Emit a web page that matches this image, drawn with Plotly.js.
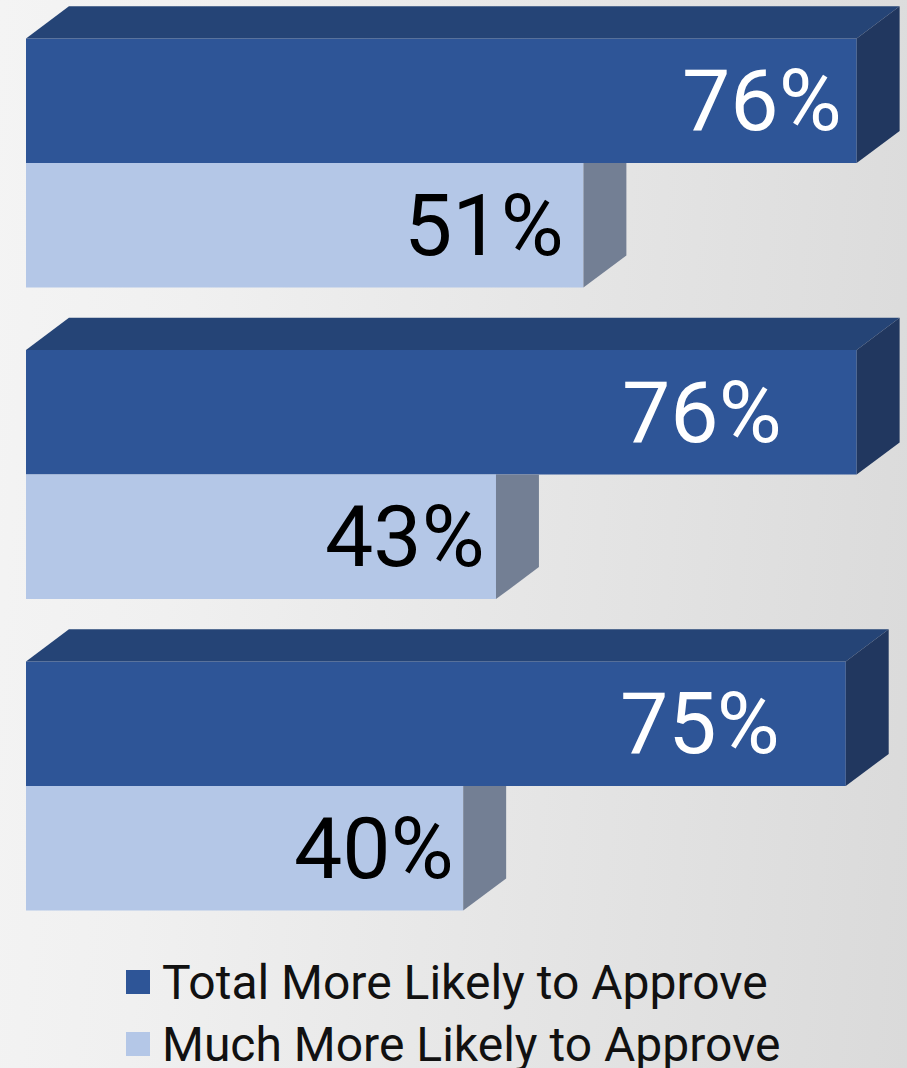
<!DOCTYPE html>
<html><head><meta charset="utf-8">
<script src="https://cdn.plot.ly/plotly-3.0.1.min.js"></script>
<style>
html,body{margin:0;padding:0;}
body{width:907px;height:1068px;background:linear-gradient(95deg,#f4f4f4 0%,#f0f0f0 22%,#dadada 100%);overflow:hidden;}
#chart{width:907px;height:1068px;}
</style></head><body><div id="chart"></div>
<script>
// ---- data ----
const groups = [0, 1, 2];
const seriesNames = ['Total More Likely to Approve', 'Much More Likely to Approve'];
const totalMore = [76, 76, 75];
const muchMore = [51, 43, 40];

// ---- style ----
const W = 907, H = 1068, ML = 26, MB = 133;
const PLOT_H = H - MB;
const BW = 0.4;           // bar thickness (y units)
const DX = 3.93;          // depth, x units
const DZ = 0.103;         // depth, y units
const C_DARK = '#2E5597', C_DARK_TOP = '#254476', C_DARK_SIDE = '#21375F';
const C_LIGHT = '#B4C7E7', C_LIGHT_SIDE = '#737F94';
const darkShift = [-13, -73, -64];
const lightShift = [-17, -9, -7];
const FONT = 'Roboto, "Open Sans", sans-serif';

const traces = [];
function face(xs, ys, color) {
  traces.push({type: 'scatter', x: xs, y: ys, mode: 'none', fill: 'toself',
    fillcolor: color, hoverinfo: 'skip', showlegend: false});
}
groups.forEach((g, i) => {
  const v = muchMore[i];
  face([v, v + DX, v + DX, v, v], [g, g, g + BW - DZ, g + BW, g], C_LIGHT_SIDE);
});
groups.forEach((g, i) => {
  const v = totalMore[i];
  face([0, DX, v + DX, v, 0], [g - BW, g - BW - DZ, g - BW - DZ, g - BW, g - BW], C_DARK_TOP);
  face([v, v + DX, v + DX, v, v], [g - BW, g - BW - DZ, g - DZ, g, g - BW], C_DARK_SIDE);
});
traces.push({type: 'bar', orientation: 'h', name: seriesNames[0], y: groups, x: totalMore,
  width: BW, offset: -BW, marker: {color: C_DARK, line: {width: 0}}, showlegend: false});
traces.push({type: 'bar', orientation: 'h', name: seriesNames[1], y: groups, x: muchMore,
  width: BW, offset: 0, marker: {color: C_LIGHT, line: {width: 0}}, showlegend: false});

const annotations = [];
groups.forEach((g, i) => {
  annotations.push({x: totalMore[i], y: g - BW / 2, xref: 'x', yref: 'y', text: totalMore[i] + '%',
    xanchor: 'right', yanchor: 'middle', xshift: darkShift[i], showarrow: false,
    font: {family: FONT, size: 86, weight: 400, color: '#ffffff'}});
  annotations.push({x: muchMore[i], y: g + BW / 2, xref: 'x', yref: 'y', text: muchMore[i] + '%',
    xanchor: 'right', yanchor: 'middle', xshift: lightShift[i], showarrow: false,
    font: {family: FONT, size: 86, weight: 400, color: '#000000'}});
});

// custom legend (pixel -> paper helpers)
const px = x => (x - ML) / (W - ML);
const py = y => (PLOT_H - y) / PLOT_H;
const shapes = [];
const legendColors = [C_DARK, C_LIGHT];
const legendRows = [982, 1044];
seriesNames.forEach((name, k) => {
  const cy = legendRows[k];
  shapes.push({type: 'rect', xref: 'paper', yref: 'paper', x0: px(126), x1: px(150),
    y0: py(cy - 12), y1: py(cy + 12), fillcolor: legendColors[k], line: {width: 0}});
  annotations.push({xref: 'paper', yref: 'paper', x: px(160), y: py(cy), text: name,
    xanchor: 'left', yanchor: 'middle', showarrow: false,
    font: {family: FONT, size: 48, color: '#111111'}});
});

const layout = {
  width: W, height: H,
  margin: {l: ML, r: 0, t: 0, b: MB, pad: 0},
  paper_bgcolor: 'rgba(0,0,0,0)', plot_bgcolor: 'rgba(0,0,0,0)',
  barmode: 'overlay',
  xaxis: {range: [0, (W - ML) / 10.93], visible: false, fixedrange: true},
  yaxis: {range: [(PLOT_H - 163) / 311.5, -163 / 311.5], visible: false, fixedrange: true},
  showlegend: false,
  annotations: annotations,
  shapes: shapes
};
Plotly.newPlot('chart', traces, layout, {staticPlot: true, displayModeBar: false});
</script></body></html>
